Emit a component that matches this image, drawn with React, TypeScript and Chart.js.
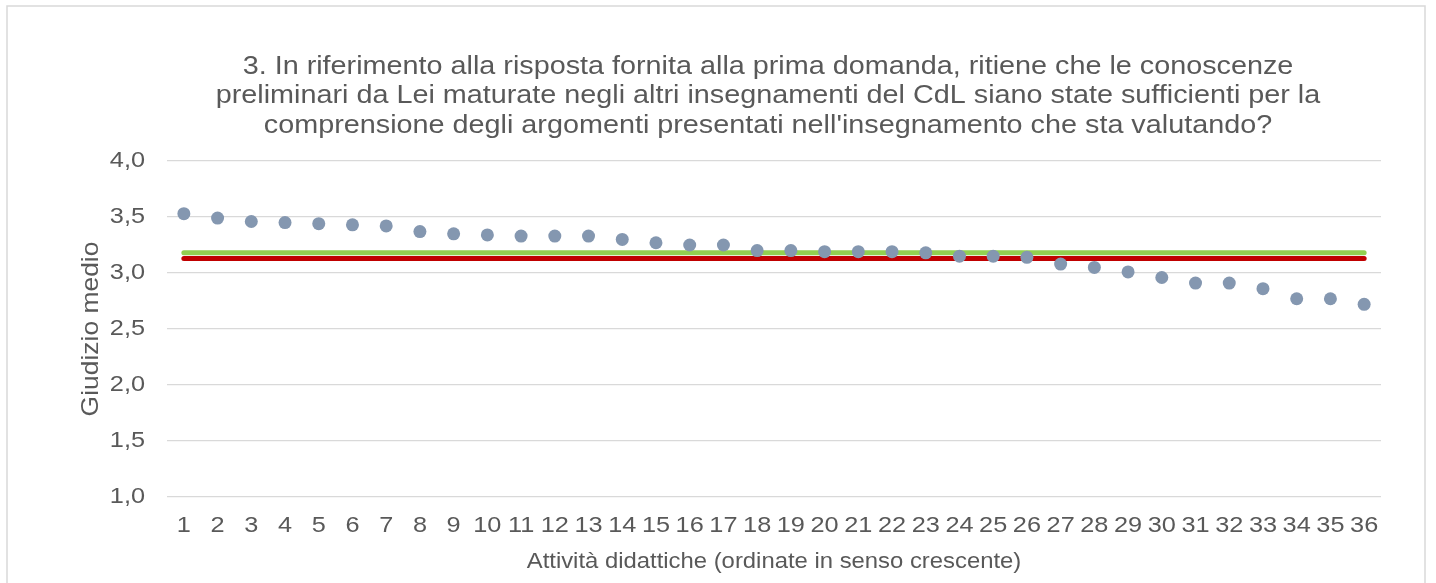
import React, { useEffect, useRef } from "react";
import { Chart, registerables } from "chart.js";

Chart.register(...registerables);

const categories = [
  "1", "2", "3", "4", "5", "6", "7", "8", "9", "10", "11", "12",
  "13", "14", "15", "16", "17", "18", "19", "20", "21", "22", "23", "24",
  "25", "26", "27", "28", "29", "30", "31", "32", "33", "34", "35", "36",
];

const giudizioMedio = [
  3.53, 3.49, 3.46, 3.45, 3.44, 3.43, 3.42, 3.37, 3.35, 3.34, 3.33, 3.33,
  3.33, 3.30, 3.27, 3.25, 3.25, 3.20, 3.20, 3.19, 3.19, 3.19, 3.18, 3.15,
  3.15, 3.14, 3.08, 3.05, 3.01, 2.96, 2.91, 2.91, 2.86, 2.77, 2.77, 2.72,
];

const mediaVerde = 3.18;
const mediaRossa = 3.13;

const yTicks = [1.0, 1.5, 2.0, 2.5, 3.0, 3.5, 4.0];

const titleLines = [
  "3. In riferimento alla risposta fornita alla prima domanda, ritiene che le conoscenze",
  "preliminari da Lei maturate negli altri insegnamenti del CdL siano state sufficienti per la",
  "comprensione degli argomenti presentati nell'insegnamento che sta valutando?",
];

const xTitle = "Attività didattiche (ordinate in senso crescente)";
const yTitle = "Giudizio medio";

const FONT = '"Liberation Sans", Arial, sans-serif';
const TEXT_COLOR = "#595959";
const SX = 1.12; // horizontal widening of all text, as in the reference

export default function App() {
  const ref = useRef<HTMLCanvasElement | null>(null);

  useEffect(() => {
    document.body.style.margin = "0";
    const canvas = ref.current!;
    const ctx = canvas.getContext("2d")!;
    const origFill = ctx.fillText.bind(ctx);
    (ctx as any).fillText = function (text: string, x: number, y: number) {
      ctx.save();
      ctx.translate(x, y);
      ctx.scale(SX, 1);
      origFill(text, 0, 0);
      ctx.restore();
    };

    const framePlugin = {
      id: "frame",
      beforeDraw(chart: any) {
        const c = chart.ctx;
        c.save();
        c.fillStyle = "#ffffff";
        c.fillRect(0, 0, chart.width, chart.height);
        c.strokeStyle = "#d9d9d9";
        c.lineWidth = 1.5;
        c.strokeRect(7, 6, 1418, 600);
        c.restore();
      },
      afterDraw(chart: any) {
        const c = chart.ctx;
        c.save();
        c.font = `25.7px ${FONT}`;
        c.fillStyle = TEXT_COLOR;
        c.textAlign = "center";
        c.textBaseline = "alphabetic";
        const baselines = [73.5, 103, 132.5];
        titleLines.forEach((t, i) => c.fillText(t, 768, baselines[i]));
        c.restore();
      },
    };

    const chart = new Chart(ctx, {
      type: "line",
      data: {
        labels: categories,
        datasets: [
          {
            label: "Giudizio medio",
            data: giudizioMedio,
            showLine: false,
            pointRadius: 6.5,
            pointHoverRadius: 6.5,
            pointBackgroundColor: "#8497b0",
            pointBorderWidth: 0,
            borderColor: "#8497b0",
          },
          {
            label: "Media verde",
            data: [
              { x: categories[0], y: mediaVerde },
              { x: categories[categories.length - 1], y: mediaVerde },
            ],
            borderColor: "#92d050",
            borderWidth: 5,
            borderCapStyle: "round",
            pointRadius: 0,
          },
          {
            label: "Media rossa",
            data: [
              { x: categories[0], y: mediaRossa },
              { x: categories[categories.length - 1], y: mediaRossa },
            ],
            borderColor: "#c00000",
            borderWidth: 5,
            borderCapStyle: "round",
            pointRadius: 0,
          },
        ],
      },
      options: {
        responsive: false,
        animation: false,
        layout: { padding: { top: 161, right: 55, left: 0, bottom: 0 } },
        plugins: {
          legend: { display: false },
          title: { display: false },
          tooltip: { enabled: false },
        },
        scales: {
          x: {
            type: "category",
            offset: true,
            grid: { display: false, drawTicks: false },
            border: { display: false },
            ticks: {
              color: TEXT_COLOR,
              font: { family: FONT, size: 22.6 },
              padding: 15.5,
              maxRotation: 0,
              autoSkip: false,
            },
            title: {
              display: true,
              text: xTitle,
              color: TEXT_COLOR,
              font: { family: FONT, size: 21.3 },
              padding: { top: 0, bottom: 8 },
            },
            afterFit: (s: any) => {
              s.height = 86;
            },
          },
          y: {
            min: 1,
            max: 4,
            afterBuildTicks: (s: any) => {
              s.ticks = yTicks.map((v) => ({ value: v }));
            },
            ticks: {
              color: TEXT_COLOR,
              font: { family: FONT, size: 22.6 },
              padding: 22,
              callback: (v: any) => Number(v).toFixed(1).replace(".", ","),
            },
            grid: { color: "#d9d9d9", lineWidth: 1.3, drawTicks: false },
            border: { display: false },
            title: {
              display: true,
              text: yTitle,
              color: TEXT_COLOR,
              font: { family: FONT, size: 23.6 },
              padding: { top: 77, bottom: 0 },
            },
            afterFit: (s: any) => {
              s.width = 167;
            },
          },
        },
      },
      plugins: [framePlugin],
    } as any);

    return () => {
      chart.destroy();
    };
  }, []);

  return (
    <canvas
      ref={ref}
      width={1436}
      height={583}
      style={{ display: "block", width: "1436px", height: "583px" }}
    />
  );
}
